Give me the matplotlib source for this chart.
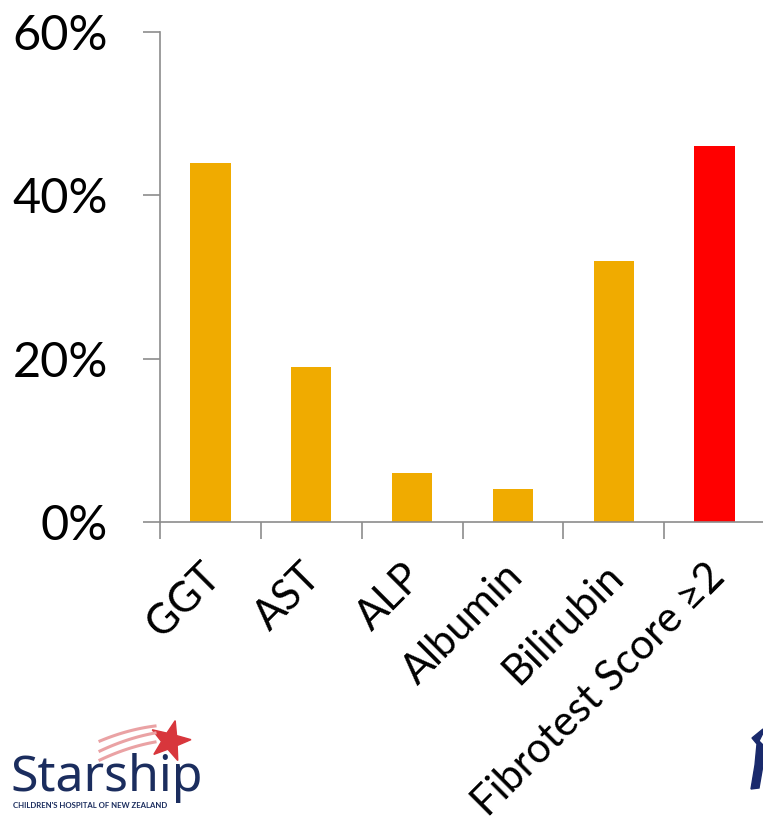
import matplotlib.pyplot as plt
from matplotlib.patches import Polygon
from matplotlib.lines import Line2D
import numpy as np

# Share of patients with abnormal result per marker
markers = ['GGT', 'AST', 'ALP', 'Albumin', 'Bilirubin', 'Fibrotest Score ≥2']
percent = [44, 19, 6, 4, 32, 46]
bar_colors = ['#F0AB00', '#F0AB00', '#F0AB00', '#F0AB00', '#F0AB00', '#FF0000']
yticks = [0, 20, 40, 60]

plt.rcParams['font.family'] = ['Lato', 'DejaVu Sans']

W, H = 763, 835
fig = plt.figure(figsize=(W / 100, H / 100), dpi=100)
ax = fig.add_axes([160 / W, (H - 522) / H, 605 / W, (522 - 32) / H])

x = np.arange(len(markers))
ax.bar(x, percent, width=0.4, color=bar_colors, zorder=2)

ax.set_xlim(-0.5, len(markers) - 0.5)
ax.set_ylim(0, 60)
ax.set_yticks(yticks)
ax.set_yticklabels([f'{v}%' for v in yticks], fontsize=35)
ax.tick_params(axis='y', length=12.5, width=1.2, color='#8c8c8c', pad=25)

# category boundaries carry the x ticks, labels sit at centres
ax.set_xticks(np.arange(len(markers) + 1) - 0.5)
ax.set_xticklabels([])
ax.tick_params(axis='x', length=12, width=1.2, color='#8c8c8c')
for xi, name in zip(x, markers):
    ax.annotate(name, xy=(xi, 0), xycoords=('data', 'axes fraction'),
                xytext=(-10, -35), textcoords='offset pixels',
                rotation=45, ha='right', va='top', rotation_mode='anchor',
                fontsize=30, annotation_clip=False)

for side in ['top', 'right']:
    ax.spines[side].set_visible(False)
for side in ['left', 'bottom']:
    ax.spines[side].set_color('#8c8c8c')
    ax.spines[side].set_linewidth(1.2)


def fig_xy(px, py):
    return np.asarray(px) / W, 1 - np.asarray(py) / H


# Starship logo, bottom left
navy = '#1b2d5e'
fig.text(*fig_xy(10, 791), 'Starship', fontsize=36, color=navy,
         family=['Noto Sans', 'DejaVu Sans'], va='baseline')
fig.text(*fig_xy(13, 806), "CHILDREN'S HOSPITAL OF NEW ZEALAND", fontsize=5.6,
         color=navy, fontweight='bold', va='center')
s = np.linspace(0, 1, 30)
for y0, y1 in [(760, 742), (751, 733), (741, 726)]:
    px = 100 + 55 * s
    py = y0 + (y1 - y0) * s - 8 * s * (1 - s)
    fig.add_artist(Line2D(*fig_xy(px, py), color='#eaa2a4', lw=2.2,
                          transform=fig.transFigure))
t = np.linspace(0, 2 * np.pi, 11)[:-1] + np.pi / 2 - 0.25
rad = np.where(np.arange(10) % 2 == 0, 21, 8.5)
star = np.column_stack(fig_xy(170 + rad * np.cos(t), 741 - rad * np.sin(t)))
fig.add_artist(Polygon(star, closed=True, color='#d8363c', transform=fig.transFigure))

# edge of a second logo, bottom right
edge = np.array([[752, 738], [763, 729], [763, 733], [759, 741], [763, 745],
                 [763, 765], [759, 788], [751, 789], [755, 765], [757, 744]])
fig.add_artist(Polygon(np.column_stack(fig_xy(edge[:, 0], edge[:, 1])),
                       closed=True, color='#1a2a6c', transform=fig.transFigure))

fig.savefig('out.png', dpi=100)
